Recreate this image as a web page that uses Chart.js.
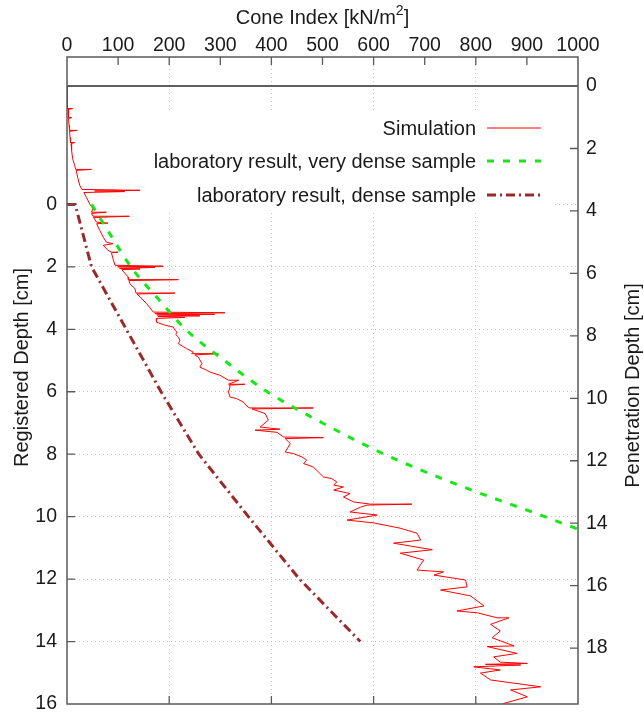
<!DOCTYPE html>
<html>
<head>
<meta charset="utf-8">
<script src="https://cdn.jsdelivr.net/npm/chart.js@4/dist/chart.umd.min.js"></script>
<style>
html,body{margin:0;padding:0;background:#fff;}
canvas{display:block;}
</style>
</head>
<body>
<canvas id="c" width="644" height="715"></canvas>
<script>
// ---------- data ----------
const ciTicks = [0,100,200,300,400,500,600,700,800,900,1000];
const regTicks = [0,2,4,6,8,10,12,14,16];
const penTicks = [0,2,4,6,8,10,12,14,16,18];

const simCI = [0,0,1,1,11,2,3,9,3,4,5,20,5,6,7,15,8,9,11,15,17,48,18,21,25,29,143,54,113,33,38,45,51,48,77,48,51,122,52,58,80,58,64,71,77,90,71,80,87,100,87,90,94,188,99,172,103,143,107,120,120,218,121,123,133,135,211,137,143,156,169,309,172,289,176,260,178,231,176,175,192,208,210,212,215,213,218,221,218,234,247,244,296,250,257,264,260,273,280,299,316,336,316,348,318,319,316,319,332,345,354,358,482,362,388,394,378,417,368,411,424,502,427,437,427,443,460,469,463,482,492,502,518,528,522,541,522,554,541,561,594,675,587,574,554,607,548,600,652,685,692,639,715,652,698,685,737,718,780,783,731,790,816,763,803,842,865,829,848,832,875,822,881,835,848,901,819,888,796,848,809,829,927,868,901,855,848];
const simDepth = [-3.78,-3.49,-3.17,-3.07,-3.07,-3.04,-2.78,-2.78,-2.75,-2.53,-2.37,-2.37,-2.34,-2.14,-1.98,-1.98,-1.95,-1.73,-1.47,-1.25,-1.12,-1.12,-1.09,-0.86,-0.61,-0.48,-0.45,-0.43,-0.41,-0.38,-0.22,0,0.13,0.25,0.25,0.29,0.38,0.38,0.42,0.57,0.6,0.62,0.83,1.05,1.21,1.26,1.31,1.47,1.53,1.53,1.55,1.74,1.95,1.98,2.0,2.02,2.05,2.07,2.09,2.33,2.41,2.41,2.44,2.54,2.7,2.84,2.84,2.87,2.97,3.18,3.45,3.47,3.50,3.52,3.54,3.57,3.59,3.62,3.65,3.77,3.87,3.93,3.99,4.04,4.09,4.17,4.25,4.35,4.46,4.62,4.73,4.78,4.78,4.82,4.89,5.1,5.21,5.31,5.37,5.47,5.63,5.63,5.76,5.76,5.79,5.85,6.01,6.17,6.22,6.33,6.49,6.52,6.52,6.55,6.7,6.91,7.13,7.2,7.23,7.3,7.45,7.47,7.5,7.66,7.93,7.98,8.09,8.19,8.3,8.41,8.57,8.73,8.78,8.89,8.99,9.05,9.15,9.26,9.37,9.53,9.6,9.6,9.63,9.7,9.85,9.95,10.11,10.2,10.37,10.53,10.75,10.85,11.06,11.17,11.39,11.71,11.77,11.87,12.03,12.25,12.35,12.54,12.86,13.02,13.08,13.24,13.24,13.45,13.66,13.88,14.14,14.16,14.38,14.49,14.66,14.70,14.73,14.75,14.81,14.91,15.01,15.23,15.45,15.55,15.77,15.98,16.06];

const veryDenseCI = [48,86,125,177,232,308,392,500,621,768,935,1016];
const veryDenseDepth = [0,1,2,3,4,5,6,7,8,9,10,10.5];

const denseCI = [0,16,48,116,184,258,355,455,574];
const denseDepth = [0,0,2,4,6,8,10,12,14];

const zeroLineCI = [0,1000];
const zeroLinePen = [0,0];

const seriesLabels = ['Simulation','laboratory result, very dense sample','laboratory result, dense sample'];
const xTitleMain = 'Cone Index [kN/m';
const xTitleSup = '2';
const xTitleEnd = ']';
const yTitle = 'Registered Depth [cm]';
const y2Title = 'Penetration Depth [cm]';

// ---------- helpers ----------
const pts = (xs, ys) => xs.map((x, i) => ({x: x, y: ys[i]}));
const FONT = '"Liberation Sans", Arial, sans-serif';
const TXT = '#1a1a1a';
const FRAME = '#5a5a5a';
const GRID = '#c4c4c4';
const FS = 20;

const styles = [
  {color: '#ff0000', width: 1, dash: []},
  {color: '#16e816', width: 3, dash: [7, 9]},
  {color: '#9a2a2a', width: 3, dash: [9, 4, 2, 4]}
];

const decorPlugin = {
  id: 'decor',
  beforeDatasetsDraw(chart) {
    const {ctx, chartArea: a} = chart;
    ctx.save();
    ctx.fillStyle = '#fff';
    ctx.fillRect(a.left + 1, 110, (a.right - 25) - (a.left + 1), 102);
    ctx.restore();
  },
  afterDatasetsDraw(chart) {
    const {ctx, chartArea: a, scales} = chart;
    const x = scales.x, y = scales.y, y2 = scales.y2;
    ctx.save();
    // frame
    ctx.strokeStyle = FRAME;
    ctx.lineWidth = 1.5;
    ctx.strokeRect(a.left, a.top, a.right - a.left, a.bottom - a.top);
    // inward ticks
    ctx.lineWidth = 1.3;
    ctx.beginPath();
    ciTicks.forEach(v => {
      if (v === 0 || v === 1000) return;
      const px = x.getPixelForValue(v);
      ctx.moveTo(px, a.top); ctx.lineTo(px, a.top + 8);
      if (v % 200 === 0) { ctx.moveTo(px, a.bottom); ctx.lineTo(px, a.bottom - 8); }
    });
    regTicks.forEach(v => {
      if (v === 16) return;
      const py = y.getPixelForValue(v);
      ctx.moveTo(a.left, py); ctx.lineTo(a.left + 8, py);
    });
    penTicks.forEach(v => {
      if (v === 0) return;
      const py = y2.getPixelForValue(v);
      ctx.moveTo(a.right, py); ctx.lineTo(a.right - 8, py);
    });
    ctx.stroke();

    // axis titles
    ctx.fillStyle = TXT;
    ctx.textBaseline = 'middle';
    ctx.font = FS + 'px ' + FONT;
    const w1 = ctx.measureText(xTitleMain).width;
    const w3 = ctx.measureText(xTitleEnd).width;
    ctx.font = '14px ' + FONT;
    const w2 = ctx.measureText(xTitleSup).width;
    const cx = (a.left + a.right) / 2;
    let tx = cx - (w1 + w2 + w3) / 2;
    ctx.textAlign = 'left';
    ctx.font = FS + 'px ' + FONT;
    ctx.fillText(xTitleMain, tx, 18);
    ctx.font = '14px ' + FONT;
    ctx.fillText(xTitleSup, tx + w1, 11);
    ctx.font = FS + 'px ' + FONT;
    ctx.fillText(xTitleEnd, tx + w1 + w2, 18);
    ctx.textAlign = 'center';
    ctx.save();
    ctx.translate(22, (a.top + a.bottom) / 2 - 13);
    ctx.rotate(-Math.PI / 2);
    ctx.fillText(yTitle, 0, 0);
    ctx.restore();
    ctx.save();
    ctx.translate(633, (a.top + a.bottom) / 2 + 5);
    ctx.rotate(-Math.PI / 2);
    ctx.fillText(y2Title, 0, 0);
    ctx.restore();

    // legend
    const rows = [128, 161, 195];
    const textRight = a.right - 102;
    const s0 = a.right - 91, s1 = a.right - 37;
    ctx.font = FS + 'px ' + FONT;
    ctx.textAlign = 'right';
    ctx.textBaseline = 'middle';
    rows.forEach((ry, i) => {
      ctx.fillStyle = TXT;
      ctx.fillText(seriesLabels[i], textRight, ry + 1);
      ctx.strokeStyle = styles[i].color;
      ctx.lineWidth = styles[i].width;
      ctx.setLineDash(styles[i].dash);
      ctx.beginPath();
      ctx.moveTo(s0, ry); ctx.lineTo(s1, ry);
      ctx.stroke();
    });
    ctx.restore();
  }
};

const tickFont = {family: FONT, size: 19.5};
const plain = v => String(v);
const noPad = s => { s.paddingTop = 0; s.paddingBottom = 0; s.paddingLeft = 0; s.paddingRight = 0; };

new Chart(document.getElementById('c'), {
  type: 'scatter',
  data: {
    datasets: [
      {data: pts(simCI, simDepth), yAxisID: 'y', showLine: true, borderColor: styles[0].color, borderWidth: 1, pointRadius: 0, tension: 0, order: 3},
      {data: pts(veryDenseCI, veryDenseDepth), yAxisID: 'y', showLine: true, borderColor: styles[1].color, borderWidth: 3, borderDash: styles[1].dash, pointRadius: 0, cubicInterpolationMode: 'monotone', order: 2},
      {data: pts(denseCI, denseDepth), yAxisID: 'y', showLine: true, borderColor: styles[2].color, borderWidth: 3, borderDash: styles[2].dash, pointRadius: 0, tension: 0, order: 1},
      {data: pts(zeroLineCI, zeroLinePen), yAxisID: 'y2', showLine: true, borderColor: '#2a2a2a', borderWidth: 1.5, pointRadius: 0, order: 0}
    ]
  },
  options: {
    responsive: false,
    devicePixelRatio: 1,
    animation: false,
    layout: {padding: {left: 0, right: 0, top: 0, bottom: 11}},
    plugins: {legend: {display: false}, tooltip: {enabled: false}},
    scales: {
      x: {
        type: 'linear', position: 'top', min: 0, max: 1000,
        afterFit: s => { s.height = 57; noPad(s); },
        afterBuildTicks: s => { s.ticks = ciTicks.map(v => ({value: v})); },
        ticks: {color: TXT, font: tickFont, padding: 0, maxRotation: 0, autoSkip: false, callback: plain},
        grid: {drawTicks: false, lineWidth: 1,
               color: c => (c.tick && c.tick.value % 200 === 0 && c.tick.value > 0 && c.tick.value < 1000) ? GRID : 'rgba(0,0,0,0)'},
        border: {display: false, dash: [1, 3]}
      },
      y: {
        type: 'linear', position: 'left', min: -4.72, max: 16, reverse: true,
        afterFit: s => { s.width = 67; noPad(s); },
        afterBuildTicks: s => { s.ticks = regTicks.map(v => ({value: v})); },
        ticks: {color: TXT, font: tickFont, padding: 10, autoSkip: false, callback: plain},
        grid: {drawTicks: false, lineWidth: 1,
               color: c => (c.tick && c.tick.value < 16) ? GRID : 'rgba(0,0,0,0)'},
        border: {display: false, dash: [1, 3]}
      },
      y2: {
        type: 'linear', position: 'right', min: -0.93, max: 19.79, reverse: true,
        afterFit: s => { s.width = 66; noPad(s); },
        afterBuildTicks: s => { s.ticks = penTicks.map(v => ({value: v})); },
        ticks: {color: TXT, font: tickFont, padding: 8, autoSkip: false, callback: plain},
        grid: {drawTicks: false, drawOnChartArea: false},
        border: {display: false}
      }
    }
  },
  plugins: [decorPlugin]
});
</script>
</body>
</html>
